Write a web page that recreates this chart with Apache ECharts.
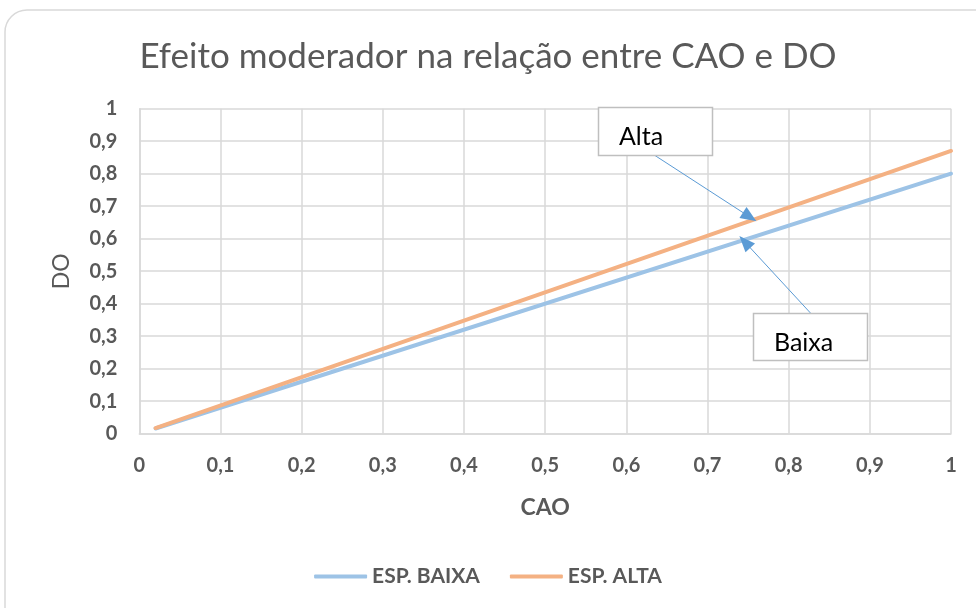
<!DOCTYPE html>
<html><head><meta charset="utf-8">
<script src="https://cdn.jsdelivr.net/npm/echarts@6/dist/echarts.min.js"></script>
<style>html,body{margin:0;padding:0;background:#fff}#c{width:976px;height:608px}</style>
</head><body><div id="c"></div>
<script>
const cao = [0.02, 1];
const espBaixa = [0.016, 0.8];
const espAlta = [0.0174, 0.87];
const boxLabels = ['Alta', 'Baixa'];
const boxTopLeft = [[0.565, 1.005], [0.756, 0.371]];
const boxBottomRight = [[0.706, 0.857], [0.897, 0.226]];
const arrowFrom = [[0.631, 0.863], [0.827, 0.371]];
const arrowTo = [[0.752, 0.667], [0.746, 0.590]];

const grey = '#595959';
const fmt = v => String(Math.round(v * 10) / 10).replace('.', ',');
const chart = echarts.init(document.getElementById('c'), null, {renderer: 'canvas'});
const option = {
  animation: false,
  backgroundColor: '#fff',
  title: {text: 'Efeito moderador na relação entre CAO e DO', left: 'center', top: 34,
    textStyle: {fontFamily: 'Lato', fontWeight: 'normal', fontSize: 35, color: grey}},
  grid: {left: 139.3, right: 25, top: 108.7, bottom: 174.3},
  legend: {bottom: 16, left: 'center', itemWidth: 53, itemHeight: 4, itemGap: 30, icon: 'roundRect',
    textStyle: {fontFamily: 'Lato', fontWeight: 'bold', fontSize: 21, color: grey},
    data: ['ESP. BAIXA', 'ESP. ALTA']},
  xAxis: {type: 'value', min: 0, max: 1, interval: 0.1,
    name: 'CAO', nameLocation: 'middle', nameGap: 62,
    nameTextStyle: {fontFamily: 'Lato', fontWeight: 'bold', fontSize: 23, color: grey},
    axisLine: {lineStyle: {color: '#d9d9d9', width: 1.5}}, axisTick: {show: false},
    axisLabel: {formatter: fmt, margin: 22, fontFamily: 'Lato', fontWeight: 'bold', fontSize: 20, color: grey},
    splitLine: {show: true, lineStyle: {color: '#d9d9d9', width: 1.5}}},
  yAxis: {type: 'value', min: 0, max: 1, interval: 0.1,
    name: 'DO', nameLocation: 'middle', nameGap: 66, nameRotate: 90,
    nameTextStyle: {fontFamily: 'Lato', fontSize: 23, color: grey},
    axisLine: {show: true, lineStyle: {color: '#d9d9d9', width: 1.5}}, axisTick: {show: false},
    axisLabel: {formatter: fmt, margin: 22, fontFamily: 'Lato', fontWeight: 'bold', fontSize: 20, color: grey},
    splitLine: {show: true, lineStyle: {color: '#d9d9d9', width: 1.5}}},
  series: [
    {name: 'ESP. BAIXA', type: 'line', showSymbol: false, symbol: 'none', color: '#9dc3e6',
      lineStyle: {width: 4, color: '#9dc3e6', cap: 'round'},
      data: cao.map((x, i) => [x, espBaixa[i]])},
    {name: 'ESP. ALTA', type: 'line', showSymbol: false, symbol: 'none', color: '#f4b183',
      lineStyle: {width: 4, color: '#f4b183', cap: 'round'},
      data: cao.map((x, i) => [x, espAlta[i]]),
      markLine: {silent: true, symbol: ['none', 'triangle'], symbolSize: [13, 16], animation: false,
        label: {show: false}, emphasis: {disabled: true},
        lineStyle: {color: '#5b9bd5', width: 1, type: 'solid'},
        data: arrowFrom.map((f, i) => [{coord: f}, {coord: arrowTo[i]}])}}
  ]
};
chart.setOption(option);
const graphics = [{type: 'rect', shape: {x: 5, y: 10, width: 1000, height: 640, r: 22},
  style: {fill: 'none', stroke: '#d9d9d9', lineWidth: 1.5}, silent: true, z: -1}];
boxLabels.forEach((t, i) => {
  const p1 = chart.convertToPixel({gridIndex: 0}, boxTopLeft[i]);
  const p2 = chart.convertToPixel({gridIndex: 0}, boxBottomRight[i]);
  graphics.push({type: 'rect', z: 100, silent: true,
    shape: {x: Math.round(p1[0]) + 0.5, y: Math.round(p1[1]) + 0.5, width: Math.round(p2[0] - p1[0]), height: Math.round(p2[1] - p1[1])},
    style: {fill: '#fff', stroke: '#bfbfbf', lineWidth: 1.5}});
  graphics.push({type: 'text', z: 101, silent: true,
    x: p1[0] + 21, y: (p1[1] + p2[1]) / 2 + 6,
    style: {text: t, font: '25px Lato', fill: '#000', textVerticalAlign: 'middle'}});
});
chart.setOption({graphic: graphics});
</script></body></html>
